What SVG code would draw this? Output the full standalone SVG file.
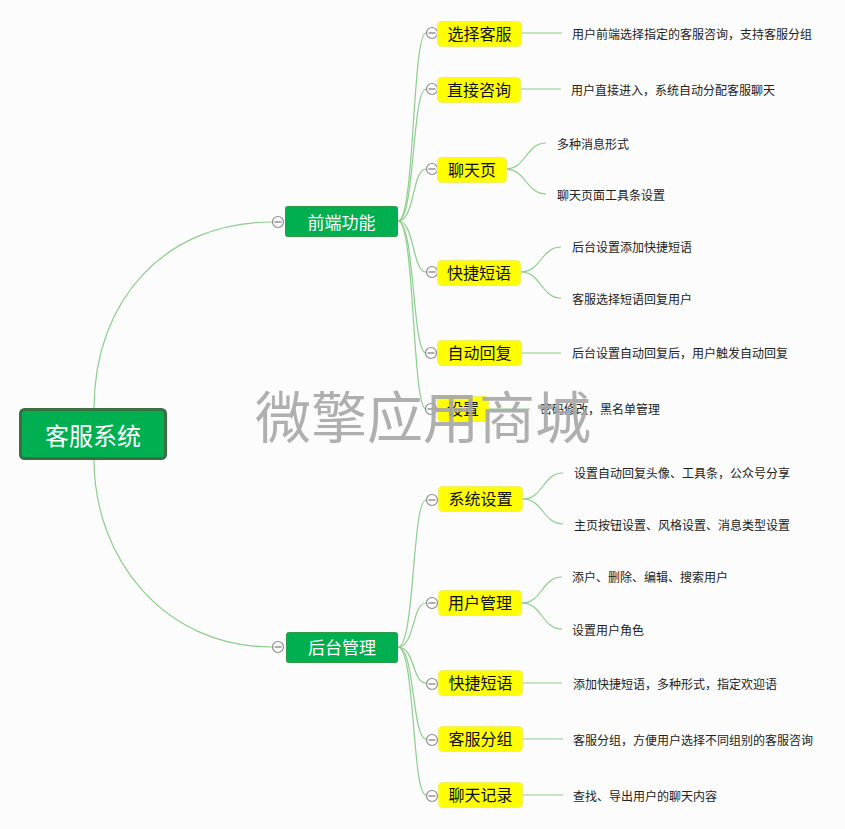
<svg xmlns="http://www.w3.org/2000/svg" width="845" height="829" viewBox="0 0 845 829">
<style>
text{font-family:"Noto Sans CJK SC","Noto Sans",sans-serif;dominant-baseline:central}
.c{fill:none;stroke:#8cce8c;stroke-width:1.2}
.y{fill:#ffff00;stroke:#f0f060;stroke-width:1}
.g{fill:#00b050;stroke:#2e9a4a;stroke-width:1}
.t2{font-size:16px;fill:#111;text-anchor:middle}
.t1{font-size:17px;fill:#fff;text-anchor:middle}
.lf{font-size:12px;fill:#222}
</style>
<defs>
<g id="col"><circle r="5.5" fill="#fff" stroke="#8a8a8a" stroke-width="1.2"/><line x1="-3.5" y1="0" x2="3.5" y2="0" stroke="#777" stroke-width="1.2"/></g>
</defs>
<rect width="845" height="829" fill="#fcfcfc"/>
<g id="connectors">
<path class="c" d="M94 409 C94 300 165 222 272 222"/>
<path class="c" d="M94 459 C94 560 165 647 272 647"/>
<path class="c" d="M398 221 C415 221 412 33 426 33"/>
<path class="c" d="M398 221 C415 221 412 89 426 89"/>
<path class="c" d="M398 221 C415 221 412 169 426 169"/>
<path class="c" d="M398 221 C415 221 412 272 426 272"/>
<path class="c" d="M398 221 C415 221 412 353 426 353"/>
<path class="c" d="M398 221 C415 221 412 409 426 409"/>
<path class="c" d="M398 647 C415 647 412 500 426 500"/>
<path class="c" d="M398 647 C415 647 412 603 426 603"/>
<path class="c" d="M398 647 C415 647 412 683 426 683"/>
<path class="c" d="M398 647 C415 647 412 739 426 739"/>
<path class="c" d="M398 647 C415 647 412 795 426 795"/>
<path class="c" d="M522 33 H562"/>
<path class="c" d="M521 89 H561"/>
<path class="c" d="M506 169 C526 169 526 143 546 143"/>
<path class="c" d="M506 169 C526 169 526 194 546 194"/>
<path class="c" d="M521 272 C541 272 541 247 561 247"/>
<path class="c" d="M521 272 C541 272 541 298 561 298"/>
<path class="c" d="M522 353 H561"/>
<path class="c" d="M489 409 H530"/>
<path class="c" d="M523 499 C543 499 543 473 563 473"/>
<path class="c" d="M523 499 C543 499 543 524 563 524"/>
<path class="c" d="M522 603 C542 603 542 577 562 577"/>
<path class="c" d="M522 603 C542 603 542 629 562 629"/>
<path class="c" d="M523 683 H562"/>
<path class="c" d="M523 739 H563"/>
<path class="c" d="M523 795 H563"/>
</g>
<g id="root">
<rect x="20.5" y="409.5" width="145" height="49" rx="4" fill="#00b050" stroke="#3b6e40" stroke-width="3"/>
<text x="93" y="434" font-size="24" fill="#fff" text-anchor="middle">客服系统</text>
</g>
<g id="n-front"><use href="#col" x="278" y="222"/><rect class="g" x="285.5" y="206.5" width="112" height="30" rx="2"/><text class="t1" x="341.5" y="221">前端功能</text></g>
<g id="n-back"><use href="#col" x="278" y="647"/><rect class="g" x="286.5" y="632.5" width="111" height="30" rx="2"/><text class="t1" x="342" y="646">后台管理</text></g>

<g id="n1"><use href="#col" x="432" y="33"/><rect class="y" x="437.5" y="21.5" width="84" height="25" rx="4"/><text class="t2" x="479.5" y="33">选择客服</text></g>
<g id="n2"><use href="#col" x="432" y="89"/><rect class="y" x="437.5" y="77.5" width="83" height="25" rx="4"/><text class="t2" x="479" y="89">直接咨询</text></g>
<g id="n3"><use href="#col" x="432" y="169"/><rect class="y" x="437.5" y="157.5" width="69" height="25" rx="4"/><text class="t2" x="472" y="169">聊天页</text></g>
<g id="n4"><use href="#col" x="432" y="272"/><rect class="y" x="437.5" y="260.5" width="83" height="25" rx="4"/><text class="t2" x="479" y="272">快捷短语</text></g>
<g id="n5"><use href="#col" x="431" y="353"/><rect class="y" x="437.5" y="340.5" width="84" height="25" rx="4"/><text class="t2" x="479.5" y="352">自动回复</text></g>
<g id="n6"><use href="#col" x="431" y="409"/><rect class="y" x="437.5" y="396.5" width="51" height="25" rx="4"/><text class="t2" x="463" y="408">设置</text></g>

<g id="n7"><use href="#col" x="432" y="500"/><rect class="y" x="438.5" y="486.5" width="84" height="25" rx="4"/><text class="t2" x="480.5" y="498">系统设置</text></g>
<g id="n8"><use href="#col" x="432" y="603"/><rect class="y" x="438.5" y="590.5" width="83" height="25" rx="4"/><text class="t2" x="480" y="602">用户管理</text></g>
<g id="n9"><use href="#col" x="432" y="684"/><rect class="y" x="438.5" y="670.5" width="84" height="25" rx="4"/><text class="t2" x="480.5" y="682">快捷短语</text></g>
<g id="n10"><use href="#col" x="432" y="740"/><rect class="y" x="438.5" y="726.5" width="84" height="25" rx="4"/><text class="t2" x="480.5" y="738">客服分组</text></g>
<g id="n11"><use href="#col" x="432" y="796"/><rect class="y" x="438.5" y="782.5" width="84" height="25" rx="4"/><text class="t2" x="480.5" y="794">聊天记录</text></g>

<g id="leaves">
<text class="lf" x="572" y="33">用户前端选择指定的客服咨询，支持客服分组</text>
<text class="lf" x="571" y="89">用户直接进入，系统自动分配客服聊天</text>
<text class="lf" x="557" y="143">多种消息形式</text>
<text class="lf" x="557" y="194">聊天页面工具条设置</text>
<text class="lf" x="572" y="246">后台设置添加快捷短语</text>
<text class="lf" x="572" y="298">客服选择短语回复用户</text>
<text class="lf" x="572" y="352">后台设置自动回复后，用户触发自动回复</text>
<text class="lf" x="540" y="408">密码修改，黑名单管理</text>
<text class="lf" x="574" y="472">设置自动回复头像、工具条，公众号分享</text>
<text class="lf" x="574" y="524">主页按钮设置、风格设置、消息类型设置</text>
<text class="lf" x="572" y="576">添户、删除、编辑、搜索用户</text>
<text class="lf" x="572" y="629">设置用户角色</text>
<text class="lf" x="573" y="683">添加快捷短语，多种形式，指定欢迎语</text>
<text class="lf" x="573" y="739">客服分组，方便用户选择不同组别的客服咨询</text>
<text class="lf" x="573" y="795">查找、导出用户的聊天内容</text>
</g>
<text x="423" y="413" font-size="56" fill="#a6a6a6" fill-opacity="0.9" text-anchor="middle">微擎应用商城</text>
</svg>
